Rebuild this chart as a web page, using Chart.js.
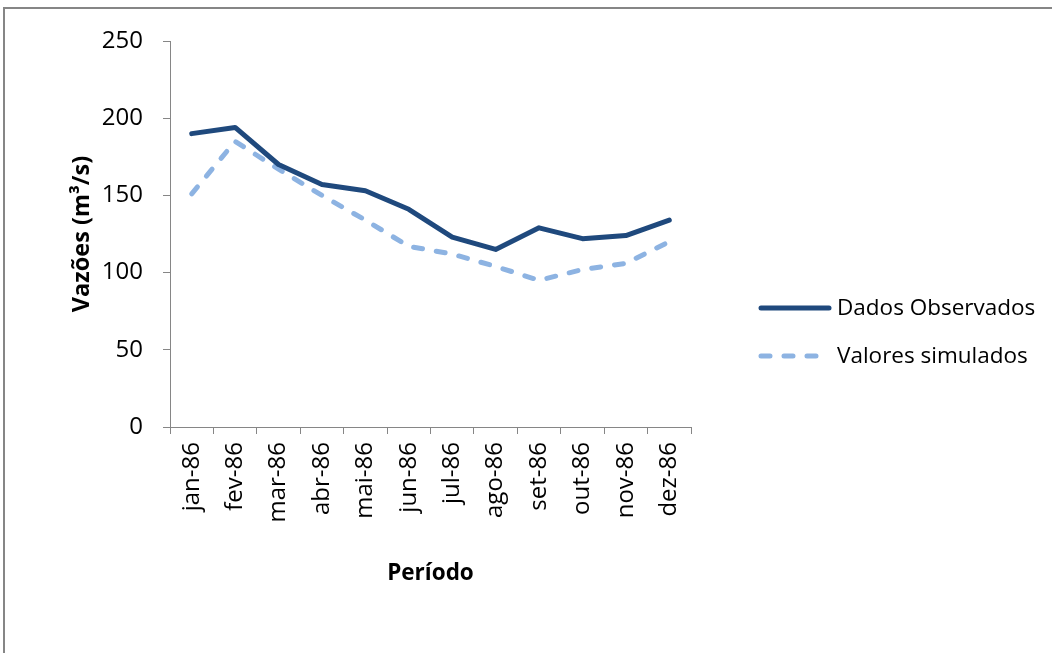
<!DOCTYPE html>
<html>
<head>
<meta charset="utf-8">
<script src="https://cdn.jsdelivr.net/npm/chart.js@4/dist/chart.umd.min.js"></script>
<style>
  html, body { margin: 0; padding: 0; background: #fff; }
  #wrap { width: 1052px; height: 653px; position: relative; }
</style>
</head>
<body>
<div id="wrap"><canvas id="chart" width="1052" height="653"></canvas></div>
<script>
const months = ['jan-86', 'fev-86', 'mar-86', 'abr-86', 'mai-86', 'jun-86',
                'jul-86', 'ago-86', 'set-86', 'out-86', 'nov-86', 'dez-86'];
const observed = [190, 194, 170, 157, 153, 141, 123, 115, 129, 122, 124, 134];
const simulated = [151, 185, 167, 150, 134, 117, 112, 104, 95, 102, 106, 120];
const yTicks = [0, 50, 100, 150, 200, 250];

const FONT = '"Open Sans", "Liberation Sans", sans-serif';
const AXIS_GREY = '#868686';

// frame round the chart + legend on the right
const framePlugin = {
    id: 'frame',
    beforeDraw(chart) {
        const ctx = chart.ctx;
        ctx.save();
        ctx.strokeStyle = AXIS_GREY;
        ctx.lineWidth = 2;
        ctx.strokeRect(4, 8, 1200, 800);
        ctx.restore();
    },
    afterDraw(chart) {
        const ctx = chart.ctx;
        const rows = [308, 356];
        ctx.save();
        chart.data.datasets.forEach((ds, i) => {
            const y = rows[i];
            ctx.strokeStyle = ds.borderColor;
            ctx.lineWidth = ds.borderWidth;
            ctx.lineCap = 'round';
            ctx.setLineDash(ds.borderDash || []);
            ctx.beginPath();
            ctx.moveTo(761, y);
            ctx.lineTo(829, y);
            ctx.stroke();
            ctx.setLineDash([]);
            ctx.fillStyle = '#000';
            ctx.font = '22.5px ' + FONT;
            ctx.textBaseline = 'middle';
            ctx.fillText(ds.label, 837, y + 1);
        });
        ctx.restore();
    }
};

new Chart(document.getElementById('chart'), {
    type: 'line',
    data: {
        labels: months,
        datasets: [{
            label: 'Dados Observados',
            data: observed,
            borderColor: '#1F497D',
            borderWidth: 5,
            pointRadius: 0,
            tension: 0,
            borderJoinStyle: 'round',
            borderCapStyle: 'round'
        }, {
            label: 'Valores simulados',
            data: simulated,
            borderColor: '#8DB3E2',
            borderWidth: 5,
            borderDash: [9, 14],
            borderCapStyle: 'round',
            pointRadius: 0,
            tension: 0
        }]
    },
    options: {
        responsive: false,
        animation: false,
        layout: { padding: { left: 64, top: 41, right: 361, bottom: 40 } },
        plugins: {
            legend: { display: false },
            tooltip: { enabled: false }
        },
        scales: {
            x: {
                offset: true,
                grid: { offset: true, drawOnChartArea: false, drawTicks: true, tickLength: 7, color: AXIS_GREY },
                border: { display: true, color: AXIS_GREY, width: 1 },
                ticks: {
                    color: '#000', minRotation: 90, maxRotation: 90, padding: 8,
                    font: { family: FONT, size: 24 }
                },
                title: {
                    display: true, text: 'Período', color: '#000',
                    font: { family: FONT, size: 22.5, weight: 'bold' },
                    padding: { top: 0, bottom: 26 }
                },
                afterFit(scale) { scale.height = 186; }
            },
            y: {
                min: 0, max: 250,
                afterBuildTicks(scale) { scale.ticks = yTicks.map(v => ({ value: v })); },
                grid: { drawOnChartArea: false, drawTicks: true, tickLength: 7, color: AXIS_GREY },
                border: { display: true, color: AXIS_GREY, width: 1 },
                ticks: {
                    color: '#000', padding: 20,
                    font: { family: FONT, size: 24 }
                },
                title: {
                    display: true, text: 'Vazões (m³/s)', color: '#000',
                    font: { family: FONT, size: 23.5, weight: 'bold' },
                    padding: { top: 4, bottom: 0 }
                },
                afterFit(scale) { scale.width = 106; }
            }
        }
    },
    plugins: [framePlugin]
});
</script>
</body>
</html>
